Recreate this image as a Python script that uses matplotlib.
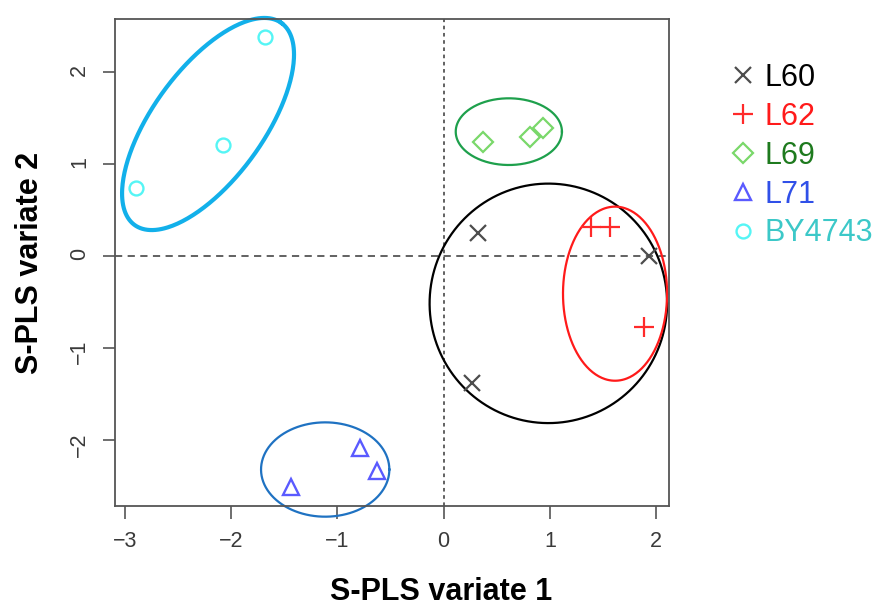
import numpy as np
import matplotlib.pyplot as plt

plt.rcParams['font.family'] = ['Liberation Sans', 'DejaVu Sans']

# Sample scores on the two S-PLS variates
groups = ['L60', 'L62', 'L69', 'L71', 'BY4743']
x_l60 = [0.32, 0.27, 1.93]
y_l60 = [0.25, -1.38, 0.0]
x_l62 = [1.39, 1.57, 1.89]
y_l62 = [0.31, 0.31, -0.77]
x_l69 = [0.37, 0.81, 0.94]
y_l69 = [1.24, 1.29, 1.39]
x_l71 = [-0.79, -0.63, -1.44]
y_l71 = [-2.09, -2.34, -2.51]
x_by = [-2.90, -2.08, -1.68]
y_by = [0.74, 1.20, 2.38]

# Confidence ellipses: centre plus two conjugate half-axis vectors
ell_cx = [0.986, 1.614, 0.614, -1.115, -2.218]
ell_cy = [-0.515, -0.41, 1.349, -2.319, 1.432]
ell_ax = [1.118, 0.49, 0.50, 0.604, 0.692]
ell_ay = [0.0, 0.0, 0.0, 0.0, 1.096]
ell_bx = [0.0, 0.0, 0.0, 0.0, 0.420]
ell_by = [1.30, 0.945, 0.362, 0.512, -0.353]
ell_col = ['black', '#ff1a1a', '#1ea04c', '#1f72c2', '#12b0ea']
ell_lw = [1.6, 1.6, 1.6, 1.6, 3.0]

fig = plt.figure(figsize=(8.8, 6.06), dpi=100)
ax = fig.add_axes([115 / 880, 1 - 506 / 606, 554 / 880, 487 / 606])

# zero lines
ax.axvline(0, color='#555555', lw=1.3, ls=(0, (2, 2)))
ax.axhline(0, color='#555555', lw=1.3, ls=(0, (4, 3)))

# ellipses
t = np.linspace(0, 2 * np.pi, 300)
for i in range(len(ell_cx)):
    ex = ell_cx[i] + ell_ax[i] * np.cos(t) + ell_bx[i] * np.sin(t)
    ey = ell_cy[i] + ell_ay[i] * np.cos(t) + ell_by[i] * np.sin(t)
    ax.plot(ex, ey, color=ell_col[i], lw=ell_lw[i], clip_on=False)

# points
ax.plot(x_l60, y_l60, 'x', color='#4d4d4d', ms=11, mew=1.6, ls='none', label=groups[0])
ax.plot(x_l62, y_l62, '+', color='#ff2a2a', ms=15, mew=1.6, ls='none', label=groups[1])
ax.plot(x_l69, y_l69, 'D', mfc='none', mec='#7ad86a', ms=10, mew=1.6, ls='none', label=groups[2])
ax.plot(x_l71, y_l71, '^', mfc='none', mec='#5a5aff', ms=12, mew=1.7, ls='none', label=groups[3])
ax.plot(x_by, y_by, 'o', mfc='none', mec='#55f5f5', ms=10, mew=1.7, ls='none', label=groups[4])

ax.set_xlim(-3.094, 2.122)
ax.set_ylim(-2.715, 2.572)
ax.set_xticks([-3, -2, -1, 0, 1, 2])
ax.set_yticks([-2, -1, 0, 1, 2])
ax.set_xticklabels(['\u22123', '\u22122', '\u22121', '0', '1', '2'])
ax.set_yticklabels(['\u22122', '\u22121', '0', '1', '2'])
ax.tick_params(direction='out', length=9, width=1.2, color='#555555',
               labelsize=15.5, labelcolor='#3a3a3a', pad=9)
ax.tick_params(axis='y', labelrotation=90)
for s in ax.spines.values():
    s.set_color('#555555')
    s.set_linewidth(1.3)

ax.set_xlabel('S-PLS variate 1', fontsize=22, fontweight='bold')
ax.set_ylabel('S-PLS variate 2', fontsize=22, fontweight='bold')
ax.xaxis.set_label_coords(0.588, -0.146)
ax.yaxis.set_label_coords(-0.1255, 0.5)

leg = ax.legend(loc='upper left', bbox_to_anchor=(731 / 880, 1 - 63 / 606),
                bbox_transform=fig.transFigure, frameon=False, fontsize=22,
                handlelength=0.8, handletextpad=0.3, labelspacing=0.29,
                borderpad=0, borderaxespad=0,
                labelcolor=['black', '#ff1a1a', '#1e7a1e', '#3050e8', '#3cc8c8'])

fig.savefig('out.png', dpi=100)
